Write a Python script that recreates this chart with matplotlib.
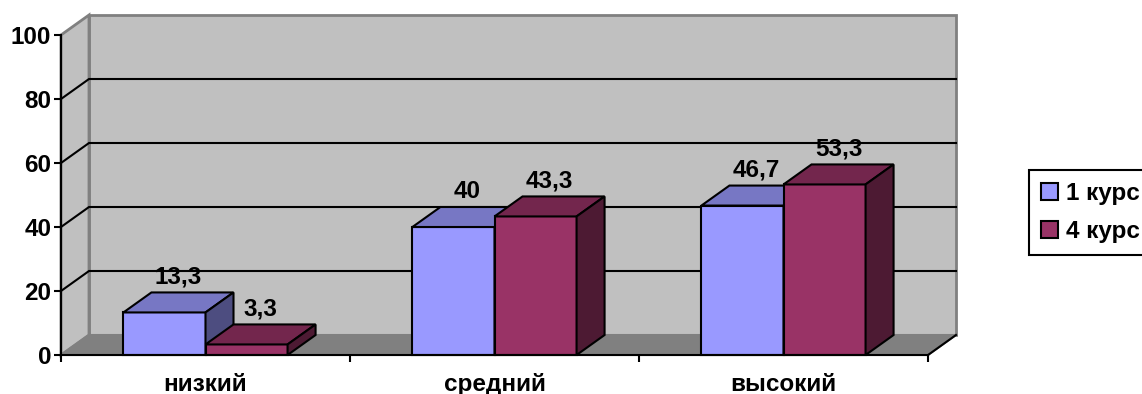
import matplotlib.pyplot as plt
from matplotlib.patches import Polygon, Patch

# уровни и значения (%)
categories = ['низкий', 'средний', 'высокий']
series_names = ['1 курс', '4 курс']
kurs1 = [13.3, 40, 46.7]
kurs4 = [3.3, 43.3, 53.3]
y_ticks = [0, 20, 40, 60, 80, 100]

# цвета граней: передняя, верхняя, боковая
face_colors = [
    ('#9999FF', '#7777C4', '#4D4D80'),
    ('#993366', '#73264D', '#4D1A33'),
]

plt.rcParams['font.family'] = ['Liberation Sans', 'DejaVu Sans']
plt.rcParams['font.weight'] = 'bold'
FS = 17.5

W, H = 1142, 394
fig = plt.figure(figsize=(W / 100, H / 100), dpi=100)
# передняя плоскость диаграммы в пикселях
x_left, x_right, y_bot, y_top = 61, 928, 355, 35
ax = fig.add_axes([x_left / W, 1 - y_bot / H, (x_right - x_left) / W, (y_bot - y_top) / H])
ax.set_xlim(0, len(categories))
ax.set_ylim(0, 100)
ax.patch.set_visible(False)

# глубина 3D в единицах данных
dx = 28 / ((x_right - x_left) / len(categories))
dy = 20 / ((y_bot - y_top) / 100)
n = len(categories)


def poly(pts, fc, ec='black', lw=1.5, z=3):
    ax.add_patch(Polygon(pts, closed=True, facecolor=fc, edgecolor=ec,
                         linewidth=lw, zorder=z, clip_on=False, joinstyle='miter'))


# стены и пол
poly([(dx, dy), (n + dx, dy), (n + dx, 100 + dy), (dx, 100 + dy)], '#C0C0C0', '#808080', 2, 0)
poly([(0, 0), (dx, dy), (dx, 100 + dy), (0, 100)], '#C0C0C0', '#808080', 2, 0)
poly([(0, 0), (n, 0), (n + dx, dy), (dx, dy)], '#808080', '#808080', 1.5, 0.5)
ax.plot([n, n + dx], [0, dy], color='black', lw=1.5, zorder=0.6, clip_on=False)

# линии сетки на стенах
for v in y_ticks[1:-1]:
    ax.plot([0, dx, n + dx], [v, v + dy, v + dy], color='black', lw=1.5,
            zorder=1, clip_on=False, solid_joinstyle='miter')

# столбцы
w = 0.284
for j in range(n):
    for i, vals in enumerate([kurs1, kurs4]):
        v = vals[j]
        x0 = j + 0.5 - w + i * w
        front, top, side = face_colors[i]
        poly([(x0, 0), (x0 + w, 0), (x0 + w, v), (x0, v)], front)
        poly([(x0, v), (x0 + w, v), (x0 + w + dx, v + dy), (x0 + dx, v + dy)], top)
        poly([(x0 + w, 0), (x0 + w + dx, dy), (x0 + w + dx, v + dy), (x0 + w, v)], side)
        ax.annotate(f'{v:g}'.replace('.', ','), (x0 + w / 2 + dx / 2, v + dy),
                    xytext=(0, 3), textcoords='offset points',
                    ha='center', va='bottom', fontsize=FS, fontweight='bold', zorder=5)

# оси
for s in ['top', 'right']:
    ax.spines[s].set_visible(False)
for s in ['left', 'bottom']:
    ax.spines[s].set_linewidth(1.5)
    ax.spines[s].set_zorder(4)
ax.set_yticks(y_ticks)
ax.tick_params(axis='y', labelsize=FS, length=5, width=1.5, pad=2)
ax.set_xticks(range(n + 1))
ax.set_xticklabels([])
ax.set_xticks([j + 0.5 for j in range(n)], minor=True)
ax.set_xticklabels(categories, minor=True)
ax.tick_params(axis='x', which='major', length=5, width=1.5)
ax.tick_params(axis='x', which='minor', length=0, labelsize=FS, pad=13)

handles = [Patch(facecolor=face_colors[i][0], edgecolor='black', linewidth=1.5)
           for i in range(2)]
leg = fig.legend(handles, series_names, loc='upper left',
                 bbox_to_anchor=(1029 / W, 1 - 170 / H), fontsize=FS,
                 handlelength=0.68, handleheight=0.68, handletextpad=0.35,
                 labelspacing=0.6, borderpad=0.5, borderaxespad=0,
                 fancybox=False, edgecolor='black', framealpha=1)
leg.get_frame().set_linewidth(1.5)

fig.savefig('out.png', dpi=100, facecolor='white')
